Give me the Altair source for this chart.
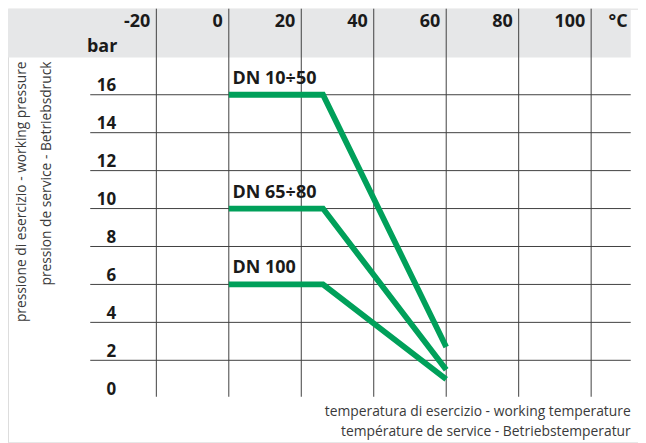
import altair as alt
import pandas as pd

# ---------------- data ----------------
series = ["DN 10÷50", "DN 65÷80", "DN 100"]
curve_temp = [0, 26, 60]
p_dn10_50 = [16, 16, 2.7]
p_dn65_80 = [10, 10, 1.5]
p_dn100 = [6, 6, 1.0]
temp_ticks = [-20, 0, 20, 40, 60, 80, 100]
temp_labels = ["-20", "0", "20", "40", "60", "80", "100"]
pressure_ticks = [0, 2, 4, 6, 8, 10, 12, 14, 16]
grid_pressures = [2, 4, 6, 8, 10, 12, 14, 16]
y_titles = ["pressione di esercizio - working pressure",
            "pression de service - Betriebsdruck"]
x_titles = ["temperatura di esercizio - working temperature",
            "température de service - Betriebstemperatur"]

# ---------------- geometry (page pixels) ----------------
PX0, PXU = 229.5, 3.635      # page x of 0 °C, px per °C
PY0, PYU = 398.8, 19.03      # page y of 0 bar, px per bar
W, H = 632, 435              # view spans page x 8..640, y 8..443


def tx(px):
    return (px - PX0) / PXU


def ty(py):
    return (PY0 - py) / PYU


xs = alt.Scale(domain=[tx(8), tx(8 + W)], nice=False, zero=False)
ys = alt.Scale(domain=[ty(8 + H), ty(8)], nice=False, zero=False)

GREEN = "#00a05a"
DARK = "#1a1a1a"
GREY_TXT = "#3a3a3a"
FONT = "Open Sans"


def enc(ch):
    return ch.encode(x=alt.X("x:Q", scale=xs, axis=None),
                     y=alt.Y("y:Q", scale=ys, axis=None))


# ---------------- layers ----------------
band = alt.Chart(pd.DataFrame({"x": [tx(8)], "x2": [tx(632.7)],
                               "y": [ty(57)], "y2": [ty(8)]})).mark_rect(
    color="#e6e7e8").encode(
    x=alt.X("x:Q", scale=xs, axis=None), x2="x2:Q",
    y=alt.Y("y:Q", scale=ys, axis=None), y2="y2:Q")

vrules = alt.Chart(pd.DataFrame({"x": temp_ticks, "y": [ty(397.3)] * len(temp_ticks),
                                 "y2": [ty(8)] * len(temp_ticks)})).mark_rule(
    color="#404040", strokeWidth=1).encode(
    x=alt.X("x:Q", scale=xs, axis=None),
    y=alt.Y("y:Q", scale=ys, axis=None), y2="y2:Q")

hrules = alt.Chart(pd.DataFrame({"y": grid_pressures,
                                 "x": [tx(90.5)] * len(grid_pressures),
                                 "x2": [tx(632.7)] * len(grid_pressures)})).mark_rule(
    color="#404040", strokeWidth=1).encode(
    y=alt.Y("y:Q", scale=ys, axis=None),
    x=alt.X("x:Q", scale=xs, axis=None), x2="x2:Q")

rows = []
for name, vals in zip(series, [p_dn10_50, p_dn65_80, p_dn100]):
    for i, (t, p) in enumerate(zip(curve_temp, vals)):
        rows.append({"series": name, "order": i, "x": t, "y": p})
curves_df = pd.DataFrame(rows)

curves = alt.Chart(curves_df).mark_line(
    color=GREEN, strokeWidth=5.8, strokeCap="butt", strokeJoin="miter").encode(
    x=alt.X("x:Q", scale=xs, axis=None),
    y=alt.Y("y:Q", scale=ys, axis=None),
    detail="series:N", order="order:Q")

series_lbl = alt.Chart(pd.DataFrame({
    "x": [tx(233.3)] * 3,
    "y": [v[0] + 0.58 for v in [p_dn10_50, p_dn65_80, p_dn100]],
    "t": series})).mark_text(
    align="left", baseline="alphabetic", font=FONT, fontWeight="bold",
    fontSize=18, color=DARK).encode(
    x=alt.X("x:Q", scale=xs, axis=None),
    y=alt.Y("y:Q", scale=ys, axis=None), text="t:N")

xlab = alt.Chart(pd.DataFrame({"x": temp_ticks, "t": temp_labels,
                               "y": [ty(26.7)] * len(temp_ticks)})).mark_text(
    align="right", baseline="alphabetic", dx=-6, font=FONT, fontWeight="bold",
    fontSize=18, color=DARK).encode(
    x=alt.X("x:Q", scale=xs, axis=None),
    y=alt.Y("y:Q", scale=ys, axis=None), text="t:N")

degc = alt.Chart(pd.DataFrame({"x": [tx(610.5)], "y": [ty(26.7)], "t": ["°C"]})).mark_text(
    align="left", baseline="alphabetic", font=FONT, fontWeight="bold",
    fontSize=18, color=DARK).encode(
    x=alt.X("x:Q", scale=xs, axis=None),
    y=alt.Y("y:Q", scale=ys, axis=None), text="t:N")

barl = alt.Chart(pd.DataFrame({"x": [tx(117.7)], "y": [ty(51.7)], "t": ["bar"]})).mark_text(
    align="right", baseline="alphabetic", font=FONT, fontWeight="bold",
    fontSize=18, color=DARK).encode(
    x=alt.X("x:Q", scale=xs, axis=None),
    y=alt.Y("y:Q", scale=ys, axis=None), text="t:N")

ylab = alt.Chart(pd.DataFrame({"y": [p + 3.4 / PYU for p in pressure_ticks],
                               "x": [tx(116.5)] * len(pressure_ticks),
                               "t": [str(p) for p in pressure_ticks]})).mark_text(
    align="right", baseline="alphabetic", font=FONT, fontWeight="bold",
    fontSize=17, color=DARK).encode(
    x=alt.X("x:Q", scale=xs, axis=None),
    y=alt.Y("y:Q", scale=ys, axis=None), text="t:N")

ytitle = alt.Chart(pd.DataFrame({"x": [tx(26.0), tx(51.0)],
                                 "y": [ty(61.0), ty(61.0)],
                                 "t": y_titles})).mark_text(
    align="right", baseline="alphabetic", angle=270, font=FONT,
    fontSize=13.8, color=GREY_TXT).encode(
    x=alt.X("x:Q", scale=xs, axis=None),
    y=alt.Y("y:Q", scale=ys, axis=None), text="t:N")

xtitle = alt.Chart(pd.DataFrame({"x": [tx(632.7), tx(632.7)],
                                 "y": [ty(416.7), ty(436.7)],
                                 "t": x_titles})).mark_text(
    align="right", baseline="alphabetic", font=FONT,
    fontSize=13.9, color=GREY_TXT).encode(
    x=alt.X("x:Q", scale=xs, axis=None),
    y=alt.Y("y:Q", scale=ys, axis=None), text="t:N")

chart = alt.layer(
    band, vrules, hrules, curves, series_lbl, xlab, degc, barl, ylab, ytitle, xtitle
).properties(
    width=W, height=H, autosize=alt.AutoSizeParams(type="none"), padding=0
).configure_view(stroke=None).configure(background="white")

chart.save("out.html", embed_options={"renderer": "svg", "actions": False})
